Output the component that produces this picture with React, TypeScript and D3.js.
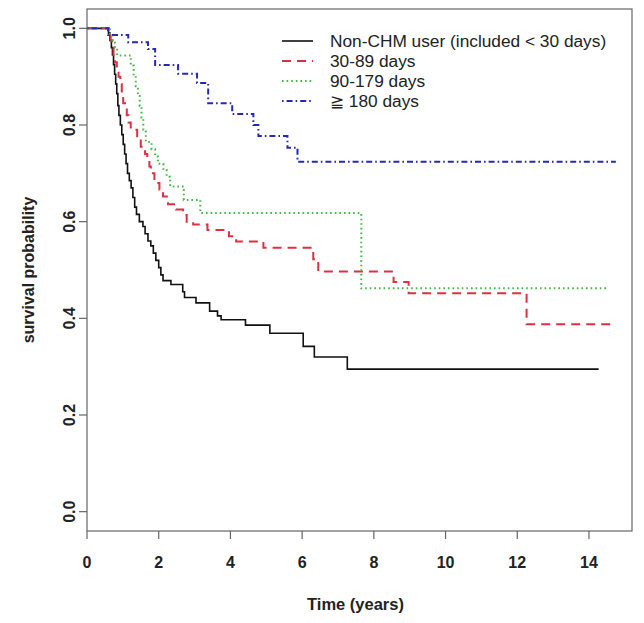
import React from "react";
import * as d3 from "d3";

// step data: [time of drop, survival after drop]
const nonChmTimes = [0.6, 0.64, 0.68, 0.71, 0.74, 0.77, 0.8, 0.83, 0.86, 0.89, 0.93, 0.97, 1.01, 1.05, 1.09, 1.13, 1.18, 1.23, 1.28, 1.33, 1.38, 1.46, 1.56, 1.62, 1.7, 1.78, 1.85, 1.92, 2.0, 2.06, 2.12, 2.34, 2.67, 2.72, 3.04, 3.42, 3.64, 3.74, 4.42, 5.1, 6.03, 6.34, 7.26];
const nonChmSurv = [0.99, 0.975, 0.96, 0.945, 0.925, 0.905, 0.885, 0.865, 0.84, 0.82, 0.8, 0.78, 0.76, 0.74, 0.72, 0.7, 0.685, 0.67, 0.65, 0.63, 0.615, 0.6, 0.59, 0.575, 0.56, 0.55, 0.535, 0.52, 0.505, 0.49, 0.478, 0.47, 0.455, 0.443, 0.432, 0.415, 0.405, 0.397, 0.386, 0.369, 0.342, 0.32, 0.295];
const nonChmEnd = 14.27;

const d30Times = [0.61, 0.66, 0.7, 0.74, 0.78, 0.83, 0.88, 0.93, 0.97, 1.01, 1.06, 1.11, 1.16, 1.22, 1.4, 1.5, 1.62, 1.68, 1.74, 1.78, 1.88, 2.02, 2.12, 2.26, 2.48, 2.68, 2.78, 2.96, 3.36, 3.96, 4.16, 4.92, 6.31, 6.45, 8.55, 8.97, 12.26];
const d30Surv = [0.985, 0.975, 0.96, 0.945, 0.93, 0.915, 0.9, 0.885, 0.865, 0.845, 0.835, 0.82, 0.805, 0.79, 0.77, 0.755, 0.74, 0.728, 0.714, 0.7, 0.68, 0.666, 0.652, 0.636, 0.625, 0.614, 0.6, 0.594, 0.583, 0.57, 0.559, 0.546, 0.522, 0.497, 0.475, 0.452, 0.388];
const d30End = 14.6;

const d90Times = [0.64, 0.72, 0.78, 0.84, 1.22, 1.3, 1.36, 1.42, 1.47, 1.52, 1.57, 1.64, 1.8, 1.9, 1.98, 2.13, 2.22, 2.32, 2.7, 3.16, 7.65];
const d90Surv = [0.985, 0.97, 0.96, 0.944, 0.923, 0.902, 0.88, 0.86, 0.84, 0.815, 0.79, 0.765, 0.75, 0.735, 0.72, 0.707, 0.693, 0.673, 0.645, 0.618, 0.462];
const d90End = 14.55;

const d180Times = [0.59, 1.15, 1.7, 1.9, 2.54, 3.07, 3.38, 4.05, 4.64, 4.78, 5.59, 5.87];
const d180Surv = [0.986, 0.971, 0.957, 0.924, 0.906, 0.887, 0.845, 0.823, 0.8, 0.777, 0.753, 0.724];
const d180End = 14.75;

const legendLabels = ["Non-CHM user (included < 30 days)", "30-89 days", "90-179 days", "\u2267 180 days"];
const xTicks = [0, 2, 4, 6, 8, 10, 12, 14];
const yTicks = [0, 0.2, 0.4, 0.6, 0.8, 1.0];

const series = [
  { times: nonChmTimes, surv: nonChmSurv, end: nonChmEnd, color: "#111111", dash: "none", width: 1.6 },
  { times: d30Times, surv: d30Surv, end: d30End, color: "#DD3040", dash: "9,6", width: 2 },
  { times: d90Times, surv: d90Surv, end: d90End, color: "#44B844", dash: "1.6,3", width: 2 },
  { times: d180Times, surv: d180Surv, end: d180End, color: "#2828B8", dash: "1.6,3,6,3", width: 2 },
];

export default function App() {
  const W = 644, H = 623;
  const left = 87, right = 632, top = 9, bottom = 531;
  const x = d3.scaleLinear().domain([0, 15.2]).range([left, right]);
  const y = d3.scaleLinear().domain([-0.04, 1.04]).range([bottom, top]);
  const line = d3.line<[number, number]>().x(d => x(d[0])).y(d => y(d[1])).curve(d3.curveStepAfter);
  const font = "Arial, 'Liberation Sans', Helvetica, sans-serif";
  const axisColor = "#666";
  const textColor = "#222";

  return (
    <svg width={W} height={H} style={{ position: "absolute", left: 0, top: 0, background: "#fff" }} fontFamily={font}>
      <rect x={0} y={0} width={W} height={H} fill="#fff" />
      {series.map((s, i) => {
        const pts: [number, number][] = [[0, 1]];
        s.times.forEach((t, j) => pts.push([t, s.surv[j]]));
        pts.push([s.end, s.surv[s.surv.length - 1]]);
        return (
          <path key={i} d={line(pts) || ""} fill="none" stroke={s.color} strokeWidth={s.width}
            strokeDasharray={s.dash} />
        );
      })}
      <rect x={left} y={top} width={right - left} height={bottom - top} fill="none" stroke={axisColor} strokeWidth={1.2} />
      {xTicks.map(t => (
        <g key={"x" + t}>
          <line x1={x(t)} x2={x(t)} y1={bottom} y2={bottom + 8} stroke={axisColor} strokeWidth={1.2} />
          <text x={x(t)} y={568} textAnchor="middle" fontSize={16} fontWeight="bold" fill={textColor}>{t}</text>
        </g>
      ))}
      {yTicks.map(t => (
        <g key={"y" + t}>
          <line x1={left} x2={left - 8} y1={y(t)} y2={y(t)} stroke={axisColor} strokeWidth={1.2} />
          <text transform={`translate(75,${y(t)}) rotate(-90)`} textAnchor="middle" fontSize={16} fontWeight="bold" fill={textColor}>{t.toFixed(1)}</text>
        </g>
      ))}
      <text x={(left + right) / 2 - 4} y={610} textAnchor="middle" fontSize={16.5} fontWeight="bold" fill={textColor}>Time (years)</text>
      <text transform={`translate(34,${(top + bottom) / 2}) rotate(-90)`} textAnchor="middle" fontSize={16} fontWeight="bold" fill={textColor}>survival probability</text>
      {legendLabels.map((lab, i) => {
        const ly = 41 + i * 20;
        const s = series[i];
        return (
          <g key={"l" + i}>
            <line x1={282} x2={313} y1={ly} y2={ly} stroke={s.color} strokeWidth={s.width} strokeDasharray={s.dash} />
            <text x={330} y={ly + 6} fontSize={17.3} fill={textColor}>{lab}</text>
          </g>
        );
      })}
    </svg>
  );
}
